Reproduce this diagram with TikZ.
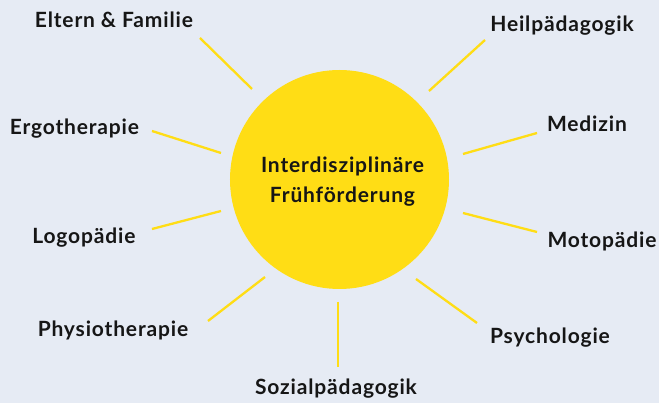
\documentclass[tikz,border=0pt]{standalone}
\usepackage{fontspec}
\setmainfont{Lato}[LetterSpace=4]
\usetikzlibrary{shapes}

\definecolor{bgblue}{HTML}{E6EBF4}
\definecolor{sunyellow}{HTML}{FFDD15}
\definecolor{labelink}{HTML}{161616}

\tikzset{
  field/.style={anchor=base, text=labelink, font=\fontsize{21}{30}\selectfont\bfseries, inner sep=0pt},
  ray/.style={sunyellow, line width=2.3pt}
}

\begin{document}
\begin{tikzpicture}[x=1pt, y=1pt]
                    \fill[bgblue] (-339.5,-223.5) rectangle (319.5,179.5);
                    \useasboundingbox (-339.5,-223.5) rectangle (319.5,179.5);
                    % sun in the middle
                    \node[circle, fill=sunyellow, minimum size=219pt, inner sep=0pt] (sun) at (0,0) {};
                    \node[field, align=center] (title) at (3,-22.8) {Interdisziplinäre\\Frühförderung};
                    % fields round it
                    \node[field] (eltern) at (-225.5,152) {Eltern \& Familie};
                    \node[field] (ergo) at (-265,45.2) {Ergotherapie};
                    \node[field] (logo) at (-255.5,-63.8) {Logopädie};
                    \node[field] (physio) at (-226.5,-157.2) {Physiotherapie};
                    \node[field] (sozial) at (-3.5,-215.5) {Sozialpädagogik};
                    \node[field] (psych) at (210.5,-164.5) {Psychologie};
                    \node[field] (moto) at (262.5,-67.8) {Motopädie};
                    \node[field] (medizin) at (247.5,47.8) {Medizin};
                    \node[field] (heil) at (222.5,147.8) {Heilpädagogik};
                    % rays
                    \coordinate (eltern-a) at (-87.5,90.5);   \coordinate (eltern-b) at (-139.5,141.5);
                    \coordinate (ergo-a) at (-118.5,26.5);    \coordinate (ergo-b) at (-187.5,48.5);
                    \coordinate (logo-a) at (-118.5,-31.5);   \coordinate (logo-b) at (-187.5,-49.5);
                    \coordinate (physio-a) at (-74.5,-97.5);  \coordinate (physio-b) at (-131.5,-141.5);
                    \coordinate (sozial-a) at (-1.5,-122.5);  \coordinate (sozial-b) at (-1.5,-187.5);
                    \coordinate (psych-a) at (76.5,-99.5);    \coordinate (psych-b) at (137.5,-143.5);
                    \coordinate (moto-a) at (123.5,-33.5);    \coordinate (moto-b) at (197.5,-52.5);
                    \coordinate (medizin-a) at (123.5,25.5);  \coordinate (medizin-b) at (197.5,46.5);
                    \coordinate (heil-a) at (89.5,88.5);      \coordinate (heil-b) at (145.5,139.5);
                    \draw[ray] (eltern-a) -- (eltern-b);
                    \draw[ray] (ergo-a) -- (ergo-b);
                    \draw[ray] (logo-a) -- (logo-b);
                    \draw[ray] (physio-a) -- (physio-b);
                    \draw[ray] (sozial-a) -- (sozial-b);
                    \draw[ray] (psych-a) -- (psych-b);
                    \draw[ray] (moto-a) -- (moto-b);
                    \draw[ray] (medizin-a) -- (medizin-b);
                    \draw[ray] (heil-a) -- (heil-b);
                \end{tikzpicture}
\end{document}
